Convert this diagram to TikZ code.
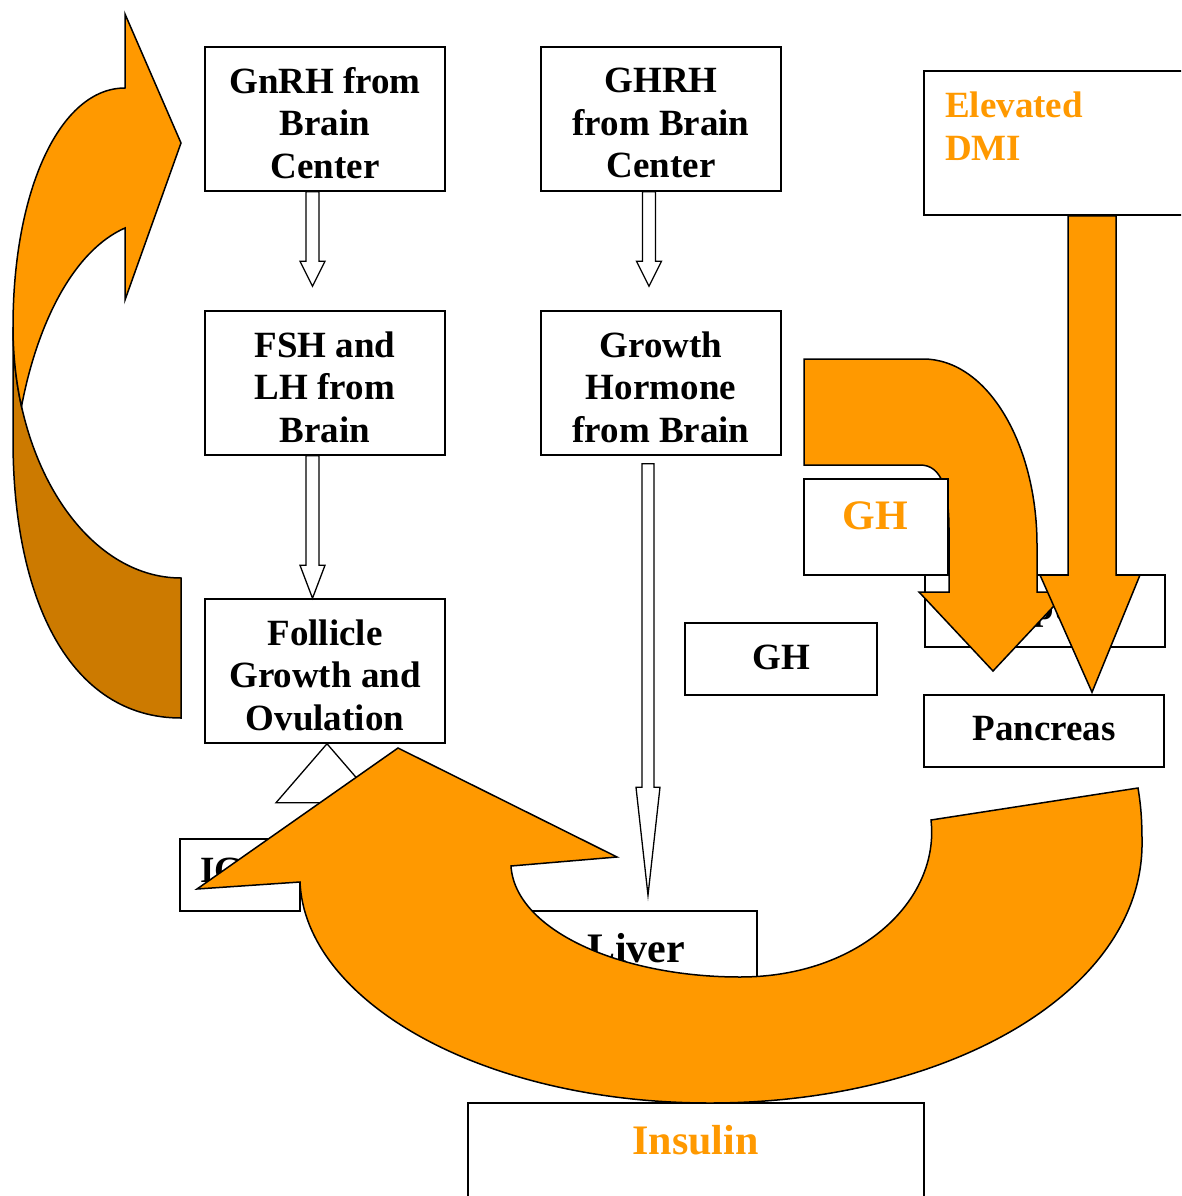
\documentclass[tikz,border=0pt]{standalone}
\usepackage{fontspec}
\setmainfont{Liberation Serif}
\usetikzlibrary{calc}
\definecolor{orng}{HTML}{FF9900}
\definecolor{dorng}{HTML}{CC7A00}
\newcommand{\dgfont}{\fontsize{37}{42.5}\selectfont\bfseries}
\newcommand{\dgfontL}{\fontsize{42}{48}\selectfont\bfseries}
\begin{document}
\begin{tikzpicture}[x=1pt,y=-1pt,
  box/.style={draw=black, line width=1.5pt, fill=white, inner sep=0pt, align=center, font=\dgfont, text=black},
  otext/.style={inner sep=0pt, font=\dgfont, text=orng},
  btext/.style={inner sep=0pt, font=\dgfont, text=black, align=center},
  hol/.style={draw=black, line width=1.3pt, fill=white, line join=miter},
  oarr/.style={draw=black, line width=1.5pt, fill=orng, line join=miter},
  darr/.style={draw=black, line width=1.5pt, fill=dorng, line join=miter}]
\useasboundingbox (0,0) rectangle (1181,1196);
\clip (0,0) rectangle (1181,1196);
\fill[white] (0,0) rectangle (1181,1196);

% ---- boxes ----
\node[box, minimum width=240pt, minimum height=144pt] (gnrh) at (325,119) {};
\node[btext] (gnrht) at ($(gnrh.center)+(0,4)$) {GnRH from\\Brain\\Center};
\node[box, minimum width=240pt, minimum height=144pt] (ghrh) at (661,119) {};
\node[btext] (ghrht) at ($(ghrh.center)+(0,4)$) {GHRH\\from Brain\\Center};
\node[box, minimum width=240pt, minimum height=144pt] (fsh) at (325,383) {};
\node[btext] (fsht) at ($(fsh.center)+(0,4)$) {FSH and\\LH from\\Brain};
\node[box, minimum width=240pt, minimum height=144pt] (gh) at (661,383) {};
\node[btext] (ght) at ($(gh.center)+(0,4)$) {Growth\\Hormone\\from Brain};
\node[box, minimum width=240pt, minimum height=144pt] (foll) at (325,671) {};
\node[btext] (follt) at ($(foll.center)+(0,4)$) {Follicle\\Growth and\\Ovulation};
\node[box, minimum width=192pt, minimum height=72pt] (ghb) at (781,659) {};
\node[btext] (ghbt) at (781,657) {GH};
\node[box, minimum width=240pt, minimum height=72pt] (panc) at (1044,731) {};
\node[btext] (panct) at (1044,729) {Pancreas};
\node[box, minimum width=240pt, minimum height=72pt] (lept) at (1045,611) {Leptin};
\node[box, minimum width=230pt, minimum height=72pt] (liver) at (642,947) {};
\node[btext, font=\dgfontL] (livert) at (636,948) {Liver};
\node[box, minimum width=120pt, minimum height=72pt] (igf) at (240,875) {};
\node[btext, anchor=west] (igft) at (200,870) {IGF-I};
\node[box, minimum width=266pt, minimum height=144pt] (dmi) at (1057,143) {};
\node[otext, anchor=west, align=left] (dmit) at (945,126) {Elevated\\DMI};
\node[box, minimum width=456pt, minimum height=110pt] (ins) at (696,1158) {};
\node[otext, font=\dgfontL] (inst) at (695.5,1140) {Insulin};

% ---- hollow arrows ----
\draw[hol] ($(gnrh.south)+(-19,0)$) -- ($(fsh.north)+(-19,-49)$) -- ($(fsh.north)+(-25,-49)$)
  -- ($(fsh.north)+(-12.5,-24)$) -- ($(fsh.north)+(0,-49)$) -- ($(fsh.north)+(-6,-49)$)
  -- ($(gnrh.south)+(-6,0)$) -- cycle;
\draw[hol] ($(ghrh.south)+(-18.5,0)$) -- ($(gh.north)+(-18.5,-49)$) -- ($(gh.north)+(-24.5,-49)$)
  -- ($(gh.north)+(-12,-24)$) -- ($(gh.north)+(0.5,-49)$) -- ($(gh.north)+(-5.5,-49)$)
  -- ($(ghrh.south)+(-5.5,0)$) -- cycle;
\draw[hol] ($(fsh.south)+(-19,0)$) -- ($(foll.north)+(-19,-33)$) -- ($(foll.north)+(-25,-33)$)
  -- ($(foll.north)+(-12.5,0)$) -- ($(foll.north)+(0,-33)$) -- ($(foll.north)+(-6,-33)$)
  -- ($(fsh.south)+(-6,0)$) -- cycle;
\draw[hol] ($(gh.south)+(-19,8)$) -- ($(liver.north)+(0,-123)$) -- ($(liver.north)+(-6,-123)$)
  -- ($(liver.north)+(6,-15)$) -- ($(liver.north)+(18,-123)$) -- ($(liver.north)+(12,-123)$)
  -- ($(gh.south)+(-7,8)$) -- cycle;
% triangle from IGF up to follicle
\draw[hol] ($(foll.south)+(2,0)$) -- ($(foll.south)+(53,59)$) -- ($(foll.south)+(-49,59)$) -- cycle;

% ---- left curved arrow ----
\filldraw[darr] (181,578) -- (181,718) .. controls (70,718) and (13,600) .. (13,440) -- (13,327)
  .. controls (13,466) and (88,578) .. (181,578) -- cycle;
\filldraw[oarr] (125,88) -- (125,14) -- (181,143) -- (125,300) -- (125,228)
  .. controls (75,250) and (38,320) .. (21.5,406.5)
  .. controls (16,381.5) and (13,354.8) .. (13,327)
  .. controls (13,190) and (60,88) .. (125,88) -- cycle;

% ---- top-right bent arrow ----
\filldraw[oarr] (804,359) -- (923,359) .. controls (988,359) and (1037,445) .. (1037,545) -- (1037,592)
  -- (1067,592) -- (993,671) -- (919,592) -- (949,592) -- (949,530)
  .. controls (949,490) and (942,465) .. (920,465) -- (804,465) -- cycle;
\node[box, minimum width=144pt, minimum height=96pt] (ghor) at (876,527) {};
\node[otext, font=\dgfontL] (ghort) at (875.5,516) {GH};
% vertical arrow DMI -> Pancreas
\filldraw[oarr] ($(dmi.south)+(11,0)$) -- (1068,575) -- (1040,575) -- ($(panc.north)+(48,-2)$)
  -- (1140,575) -- (1116,575) -- ($(dmi.south)+(59,0)$) -- cycle;

% ---- big bottom curved arrow ----
\filldraw[oarr] (300,882) .. controls (305,1000) and (480,1103) .. (710,1103)
  .. controls (950,1103) and (1145,990) .. (1142,840)
  .. controls (1142,815) and (1140,800) .. (1138,788)
  -- (931,820)
  .. controls (940,900) and (860,977) .. (740,977)
  .. controls (620,977) and (515,930) .. (511,866)
  -- (617,857) -- (398,748) -- (197,889) -- cycle;
\end{tikzpicture}
\end{document}
